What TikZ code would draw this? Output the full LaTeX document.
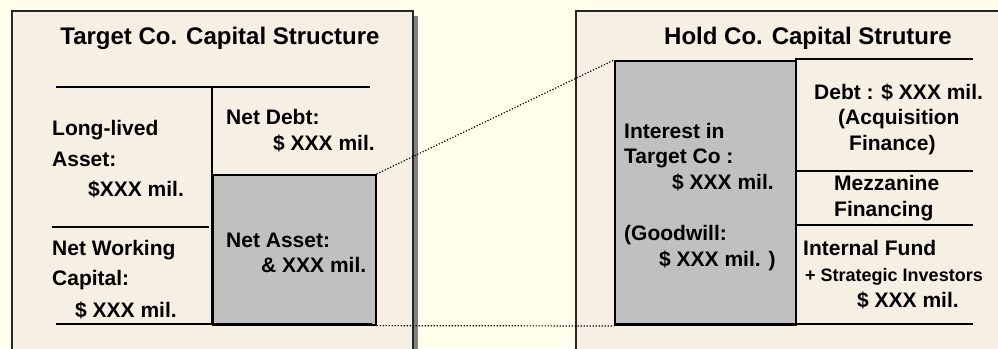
\documentclass[tikz,border=0pt]{standalone}
\usepackage{fontspec}
\setmainfont{Liberation Sans}
\definecolor{pagebg}{HTML}{FFFFEC}
\definecolor{panelbg}{HTML}{F5EFE4}
\definecolor{boxgray}{HTML}{C0C0C0}
\definecolor{shadowgray}{HTML}{808080}
\tikzset{
  lbl/.style={anchor=base west, inner sep=0pt, font=\bfseries\fontsize{21}{25}\selectfont},
  smalllbl/.style={anchor=base west, inner sep=0pt, font=\bfseries\fontsize{18}{22}\selectfont},
  ttl/.style={anchor=base, inner sep=0pt, font=\bfseries\fontsize{24}{28}\selectfont},
  panel/.style={fill=panelbg, draw=black!85, line width=2pt},
  rule/.style={line width=1.6pt},
  grayblock/.style={draw=black, fill=boxgray, inner sep=0pt, anchor=north west},
  link/.style={line width=1.2pt, dash pattern=on 1.2pt off 1.8pt}
}
\begin{document}
\begin{tikzpicture}[x=1pt,y=-1pt]
\useasboundingbox (0,0) rectangle (998,348);
\clip (0,0) rectangle (998,348);
\fill[pagebg] (0,0) rectangle (998,348);

% ---- Target Co. panel ----
\fill[shadowgray] (17,16) rectangle (418,360);
\draw[panel] (12,11) rectangle (413,360);
\node[ttl] (ttitle) at (220,44) {Target Co. Capital Structure};

\node[grayblock, line width=1.6pt, minimum width=163pt, minimum height=150pt] (netasset) at (212,174) {};
\draw[rule] (56,87) -- (370,87);
\draw[rule] (212,87) -- (212,324);
\draw[rule] (52,227) -- (209,227);
\draw[rule] (56,324) -- (372,324);

\node[lbl] (ll1) at (52,135) {Long-lived};
\node[lbl] (ll2) at (52,166) {Asset:};
\node[lbl] (ll3) at (88,196) {\$XXX mil.};
\node[lbl] (nd1) at (226,124) {Net Debt:};
\node[lbl] (nd2) at (273,150) {\$ XXX mil.};
\node[lbl] (nw1) at (52,255) {Net Working};
\node[lbl] (nw2) at (52,285) {Capital:};
\node[lbl] (nw3) at (75,317) {\$ XXX mil.};
\node[lbl] (na1) at (226,247) {Net Asset:};
\node[lbl] (na2) at (261,272) {\& XXX mil.};

% ---- Hold Co. panel ----
\draw[panel] (576,11) rectangle (1010,360);
\node[ttl] (htitle) at (808,44) {Hold Co. Capital Struture};

\node[grayblock, line width=2pt, minimum width=181pt, minimum height=264pt] (interest) at (614,60) {};
\draw[rule, line width=2pt] (795,59) -- (973,59);
\draw[rule, line width=2pt] (795,171) -- (973,171);
\draw[rule, line width=2pt] (795,225) -- (973,225);
\draw[rule, line width=2pt] (614,324) -- (973,324);

\node[lbl] (it1) at (624,138) {Interest in};
\node[lbl] (it2) at (624,163) {Target Co :};
\node[lbl] (it3) at (672,189) {\$ XXX mil.};
\node[lbl] (gw1) at (624,240) {(Goodwill:};
\node[lbl] (gw2) at (659,266) {\$ XXX mil. )};

\node[lbl] (db1) at (814,99) {Debt : \$ XXX mil.};
\node[lbl] (db2) at (838,124) {(Acquisition};
\node[lbl] (db3) at (849,150) {Finance)};
\node[lbl] (mz1) at (834,190) {Mezzanine};
\node[lbl] (mz2) at (834,216) {Financing};
\node[lbl] (if1) at (803,255) {Internal Fund};
\node[smalllbl] (if2) at (805,281) {+ Strategic Investors};
\node[lbl] (if3) at (857,307) {\$ XXX mil.};

% ---- dotted links between the two blocks ----
\draw[link] (netasset.north east) -- (interest.north west);
\draw[link] (netasset.south east) -- (interest.south west);
\end{tikzpicture}
\end{document}
